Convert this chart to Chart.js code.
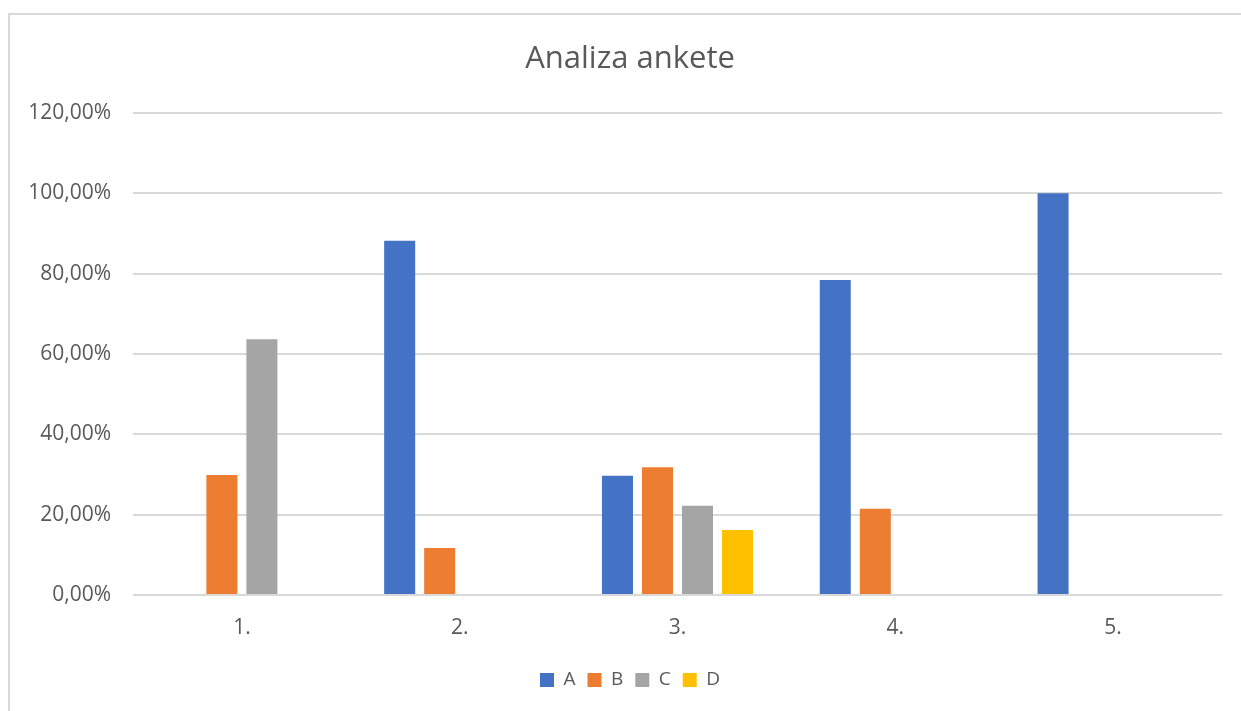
<!DOCTYPE html>
<html>
<head>
<meta charset="utf-8">
<script src="https://cdn.jsdelivr.net/npm/chart.js@4/dist/chart.umd.min.js"></script>
<style>
  html, body { margin: 0; padding: 0; background: #fff; }
  #wrap { position: relative; width: 1241px; height: 711px; }
</style>
</head>
<body>
<div id="wrap"><canvas id="chart" width="1241" height="711"></canvas></div>
<script>
// podaci ankete (procenti)
const categories = ["1.", "2.", "3.", "4.", "5."];
const seriesNames = ["A", "B", "C", "D"];
const valuesA = [0, 88.2, 29.7, 78.4, 100];
const valuesB = [29.9, 11.7, 31.8, 21.5, 0];
const valuesC = [63.7, 0, 22.2, 0, 0];
const valuesD = [0, 0, 16.2, 0, 0];
const yTicks = [0, 20, 40, 60, 80, 100, 120];

const colors = ["#4472C4", "#ED7D31", "#A5A5A5", "#FFC000"];
const FONT = "'Open Sans', 'Liberation Sans', sans-serif";

// okvir oko grafikona (samo lijevo i gore, kao na slici)
const frame = {
  id: "frame",
  beforeDraw(chart) {
    const c = chart.ctx;
    c.save();
    c.fillStyle = "#fff";
    c.fillRect(0, 0, chart.width, chart.height);
    c.strokeStyle = "#d9d9d9";
    c.lineWidth = 2;
    c.beginPath();
    c.moveTo(9, chart.height);
    c.lineTo(9, 14);
    c.lineTo(chart.width, 14);
    c.stroke();
    c.restore();
  }
};

// naslov i legenda malo udesno (centrirani oko x=630 kao u Excelu)
const shiftCenter = {
  id: "shiftCenter",
  afterLayout(chart) {
    [chart.titleBlock, chart.legend].forEach(b => {
      if (b) { b.left += 18; }
    });
  }
};

const allValues = [valuesA, valuesB, valuesC, valuesD];

new Chart(document.getElementById("chart"), {
  type: "bar",
  data: {
    labels: categories,
    datasets: seriesNames.map((name, i) => ({
      label: name,
      data: allValues[i],
      backgroundColor: colors[i],
      borderWidth: 0,
      categoryPercentage: 0.735,
      barPercentage: 0.775,
    })),
  },
  options: {
    responsive: false,
    animation: false,
    devicePixelRatio: 1,
    layout: { padding: { left: 20, right: 19, top: 0, bottom: 11.5 } },
    plugins: {
      title: {
        display: true,
        text: "Analiza ankete",
        color: "#595959",
        font: { family: FONT, size: 31, weight: "normal" },
        padding: { top: 40.4, bottom: 35.4 },
      },
      legend: {
        display: true,
        position: "bottom",
        labels: {
          color: "#595959",
          font: { family: FONT, size: 19 },
          boxWidth: 14,
          boxHeight: 14,
          padding: 12,
        },
      },
      tooltip: { enabled: false },
    },
    scales: {
      y: {
        min: 0,
        max: 120,
        afterBuildTicks(axis) {
          axis.ticks = yTicks.map(v => ({ value: v }));
        },
        afterFit(axis) { axis.width = 113; },
        ticks: {
          color: "#595959",
          font: { family: FONT, size: 21 },
          padding: 22,
          callback: v => v.toFixed(2).replace(".", ",") + "%",
        },
        grid: { color: "#d9d9d9", lineWidth: 2, drawTicks: false },
        border: { display: false },
      },
      x: {
        afterFit(axis) { axis.height = 63.5; },
        ticks: {
          color: "#595959",
          font: { family: FONT, size: 21 },
          padding: 20,
        },
        grid: { display: false, drawTicks: false },
        border: { display: false },
      },
    },
  },
  plugins: [frame, shiftCenter],
});
</script>
</body>
</html>
